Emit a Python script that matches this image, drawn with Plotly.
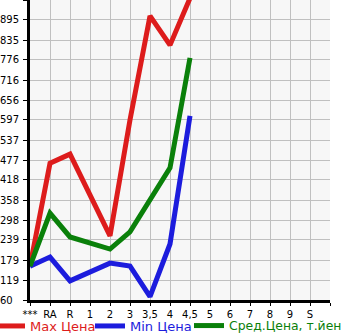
import plotly.graph_objects as go

categories = ["***", "RA", "R", "1", "2", "3", "3,5", "4", "4,5", "5", "6", "7", "8", "9", "S"]
max_price = [161, 468, 495, None, 251, 597, 907, 820, 960, None, None, None, None, None, None]
min_price = [161, 188, 117, None, 170, 161, 70, 227, 609, None, None, None, None, None, None]
avg_price = [161, 319, 248, None, 212, 263, 358, 454, 782, None, None, None, None, None, None]
y_ticks = [60, 119, 179, 239, 298, 358, 418, 477, 537, 597, 656, 716, 776, 835, 895]
y_top = 954.6

x_idx = list(range(len(categories)))

series = [
    ("Max Цена", max_price, "#dd1c1c", "legend"),
    ("Min Цена", min_price, "#1c1cdd", "legend2"),
    ("Сред.Цена, т.йен", avg_price, "#0a800a", "legend3"),
]

fig = go.Figure()
for name, vals, color, lg in series:
    fig.add_trace(go.Scatter(
        x=x_idx, y=vals, mode="lines", connectgaps=True,
        line=dict(color=color, width=5),
        name=f"<span style='color:{color}'>{name}</span>",
        legend=lg,
    ))

ylabels = [f"{v}" if v >= 100 else f"{v}\u2007" for v in y_ticks]

W, H = 345, 335
L, R, T, B = 30, 15, 0, 35
PW, PH = W - L - R, H - T - B
def legend_at(text_x, size=13):
    return dict(orientation="h",
                x=(text_x - 40 - L) / PW, xanchor="left",
                y=(PH - 311) / PH, yanchor="top",
                font=dict(size=size), itemwidth=30,
                bgcolor="rgba(0,0,0,0)", borderwidth=0)

fig.update_layout(
    width=W, height=H,
    margin=dict(l=L, r=R, t=T, b=B, autoexpand=False),
    paper_bgcolor="white", plot_bgcolor="#f7f7f7",
    font=dict(family="DejaVu Sans", size=10, color="black"),
    showlegend=True,
    legend=legend_at(30),
    legend2=legend_at(130),
    legend3=legend_at(229, 12.4),
    xaxis=dict(
        range=[0, len(categories)], tickmode="array",
        tickvals=list(range(len(categories) + 1)), ticktext=categories + [""],
        showgrid=True, gridcolor="#c0c0c0", gridwidth=1,
        showline=True, linecolor="black", linewidth=3,
        ticks="outside", ticklen=3, tickcolor="black", tickwidth=1,
        zeroline=False, fixedrange=True, automargin=False,
    ),
    yaxis=dict(
        range=[60, y_top], tickmode="array",
        tickvals=y_ticks + [y_top], ticktext=ylabels + [""],
        showgrid=True, gridcolor="#c0c0c0", gridwidth=1,
        showline=True, linecolor="black", linewidth=3,
        ticks="outside", ticklen=4, tickcolor="black", tickwidth=1,
        ticklabelstandoff=2,
        zeroline=False, fixedrange=True, automargin=False,
    ),
)

fig.write_html("out.html")
